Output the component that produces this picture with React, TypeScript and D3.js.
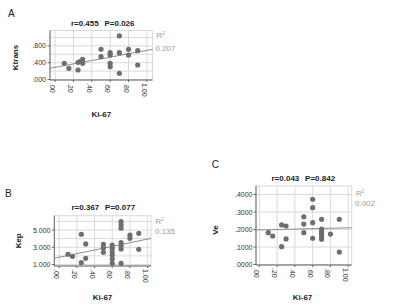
import React from "react";
import * as d3 from "d3";

// ---------- data ----------
const xTicks = [0, 0.2, 0.4, 0.6, 0.8, 1.0];
const xTickLabels = [".00", ".20", ".40", ".60", ".80", "1.00"];

const kiA = [0.10, 0.15, 0.25, 0.25, 0.28, 0.30, 0.30, 0.50, 0.50, 0.60, 0.60, 0.60, 0.60, 0.70, 0.70, 0.70, 0.80, 0.80, 0.90, 0.90];
const ktrans = [0.386, 0.267, 0.41, 0.226, 0.44, 0.48, 0.386, 0.72, 0.543, 0.638, 0.583, 0.386, 0.305, 1.04, 0.638, 0.148, 0.72, 0.583, 0.686, 0.345];

const kiB = [0.10, 0.15, 0.25, 0.25, 0.30, 0.30, 0.50, 0.50, 0.50, 0.60, 0.60, 0.60, 0.60, 0.60, 0.60, 0.70, 0.70, 0.70, 0.70, 0.70, 0.70, 0.70, 0.80, 0.80, 0.90, 0.90];
const kep = [2.19, 1.95, 4.51, 1.21, 3.38, 1.72, 3.34, 2.95, 2.41, 3.26, 2.88, 2.48, 2.10, 1.64, 1.14, 5.96, 5.58, 5.20, 3.55, 3.18, 2.80, 1.14, 4.42, 4.04, 4.62, 2.76];

const kiC = [0.10, 0.15, 0.25, 0.25, 0.30, 0.30, 0.50, 0.50, 0.50, 0.60, 0.60, 0.60, 0.60, 0.70, 0.70, 0.70, 0.70, 0.70, 0.70, 0.80, 0.90, 0.90];
const ve = [0.182, 0.163, 0.226, 0.102, 0.22, 0.146, 0.273, 0.231, 0.182, 0.373, 0.325, 0.239, 0.150, 0.258, 0.203, 0.187, 0.174, 0.159, 0.144, 0.174, 0.258, 0.071];

const yGridA = [0, 0.2, 0.4, 0.6, 0.8, 1.0];
const yTicksA = [0, 0.4, 0.8];
const yTickLabelsA = [".000", ".400", ".800"];
const yGridB = [1, 2, 3, 4, 5, 6];
const yTicksB = [1, 3, 5];
const yTickLabelsB = ["1.000", "3.000", "5.000"];
const yGridC = [0, 0.1, 0.2, 0.3, 0.4];
const yTicksC = [0, 0.1, 0.2, 0.3, 0.4];
const yTickLabelsC = [".0000", ".1000", ".2000", ".3000", ".4000"];

// regression [intercept, slope]
const fitA = [0.29, 0.404];
const fitB = [1.836, 2.11];
const fitC = [0.1975, 0.012];

const statsA = ["r=0.455", "P=0.026", "0.207"];
const statsB = ["r=0.367", "P=0.077", "0.135"];
const statsC = ["r=0.043", "P=0.842", "0.002"];

const FONT = "'Liberation Sans', Arial, Helvetica, sans-serif";

type PanelProps = {
  letter: string;
  yName: string;
  xs: number[];
  ys: number[];
  fit: number[];
  stats: string[];
  yGrid: number[];
  yTicks: number[];
  yTickLabels: string[];
  yDomain: [number, number];
  L: any;
};

function Panel(p: PanelProps) {
  const L = p.L;
  const x = d3.scaleLinear().domain([0, 1]).range([L.x0, L.x1]);
  const y = d3.scaleLinear().domain(p.yDomain).range([L.y0, L.y1]);
  const xl = x.invert(L.left);
  const xr = x.invert(L.right);
  const line = d3.line<number>().x((d) => x(d)).y((d) => y(p.fit[0] + p.fit[1] * d));
  return (
    <g fontFamily={FONT}>
      <text x={L.letter[0]} y={L.letter[1]} fontSize={10} fill="#222">{p.letter}</text>
      <text x={L.title[0] - 31.8} y={L.title[1]} fontSize={8} fontWeight="bold" textAnchor="start" fill="#222">{p.stats[0]}</text>
      <text x={L.title[0] + 31.8} y={L.title[1]} fontSize={8} fontWeight="bold" textAnchor="end" fill="#222">{p.stats[1]}</text>
      <text transform={`translate(${L.ylab[0]},${L.ylab[1]}) rotate(-90)`} fontSize={8} fontWeight="bold" textAnchor="middle" fill="#222">{p.yName}</text>
      <text x={L.xlab[0]} y={L.xlab[1]} fontSize={8} fontWeight="bold" textAnchor="middle" fill="#222">Ki-67</text>
      {/* grid */}
      {xTicks.map((t, i) => (
        <line key={"vx" + i} x1={x(t)} x2={x(t)} y1={L.top} y2={L.bottom} stroke="#dadada" strokeWidth={1} />
      ))}
      {p.yGrid.map((t, i) => (
        <line key={"hy" + i} x1={L.left} x2={L.right} y1={y(t)} y2={y(t)} stroke="#dadada" strokeWidth={1} />
      ))}
      <rect x={L.left} y={L.top} width={L.right - L.left} height={L.bottom - L.top} fill="none" stroke="#dadada" strokeWidth={1} />
      {/* axes */}
      <line x1={L.left} x2={L.left} y1={L.top} y2={L.bottom} stroke="#666" strokeWidth={1} />
      <line x1={L.left} x2={L.right} y1={L.bottom} y2={L.bottom} stroke="#666" strokeWidth={1} />
      {p.yTicks.map((t, i) => (
        <g key={"yt" + i}>
          <line x1={L.left - 2.5} x2={L.left} y1={y(t)} y2={y(t)} stroke="#666" strokeWidth={1} />
          <text x={L.ytr} y={y(t) + 2.5} fontSize={7} textAnchor="end" fill="#333">{p.yTickLabels[i]}</text>
        </g>
      ))}
      {xTicks.map((t, i) => (
        <g key={"xt" + i}>
          <line x1={x(t)} x2={x(t)} y1={L.bottom} y2={L.bottom + 2} stroke="#666" strokeWidth={1} />
          <text transform={`translate(${x(t) - 5},${L.bottom + 3}) rotate(90)`} fontSize={7} fill="#333">{xTickLabels[i]}</text>
        </g>
      ))}
      {/* fit line */}
      <path d={line([xl, xr]) || ""} stroke="#8c8c8c" strokeWidth={1} fill="none" />
      {/* points */}
      {p.xs.map((v, i) => (
        <circle key={"c" + i} cx={x(v)} cy={y(p.ys[i])} r={2.6} fill="#6e6e6e" />
      ))}
      <text x={L.r2[0]} y={L.r2[1]} fontSize={8} fill="#9a9a9a">
        R<tspan fontSize={4.5} dy={-3}>2</tspan>
      </text>
      <text x={L.r2v[0]} y={L.r2v[1]} fontSize={8} fill="#9a9a9a">{p.stats[2]}</text>
    </g>
  );
}

const layoutA = {
  left: 50, right: 152.5, top: 30.5, bottom: 80,
  x0: 55.1, x1: 146.9, y0: 79.5, y1: 37.5, ytr: 46,
  letter: [8, 16.7], title: [102.7, 25.7], ylab: [18.3, 57.5], xlab: [101.3, 117.3],
  r2: [156.5, 37.5], r2v: [155.5, 51],
};
const layoutB = {
  left: 54.3, right: 151, top: 215.7, bottom: 266,
  x0: 59.2, x1: 147.6, y0: 264.5, y1: 230, ytr: 50.5,
  letter: [5, 196.7], title: [103.3, 210], ylab: [20.5, 240.8], xlab: [102.5, 300],
  r2: [155.5, 223.5], r2v: [155, 233.5],
};
const layoutC = {
  left: 256, right: 351.7, top: 186, bottom: 265,
  x0: 259.4, x1: 348.2, y0: 264.5, y1: 194.5, ytr: 252.5,
  letter: [211.7, 168.3], title: [303.3, 181], ylab: [217.5, 230], xlab: [302.5, 300],
  r2: [356, 195.7], r2v: [355, 205.7],
};

export default function App() {
  return (
    <svg width={400} height={307} style={{ position: "absolute", left: 0, top: 0, background: "#fff" }}>
      <rect x={0} y={0} width={400} height={307} fill="#fff" />
      <Panel letter="A" yName="Ktrans" xs={kiA} ys={ktrans} fit={fitA} stats={statsA}
        yGrid={yGridA} yTicks={yTicksA} yTickLabels={yTickLabelsA} yDomain={[0, 1]} L={layoutA} />
      <Panel letter="B" yName="Kep" xs={kiB} ys={kep} fit={fitB} stats={statsB}
        yGrid={yGridB} yTicks={yTicksB} yTickLabels={yTickLabelsB} yDomain={[1, 5]} L={layoutB} />
      <Panel letter="C" yName="Ve" xs={kiC} ys={ve} fit={fitC} stats={statsC}
        yGrid={yGridC} yTicks={yTicksC} yTickLabels={yTickLabelsC} yDomain={[0, 0.4]} L={layoutC} />
    </svg>
  );
}
